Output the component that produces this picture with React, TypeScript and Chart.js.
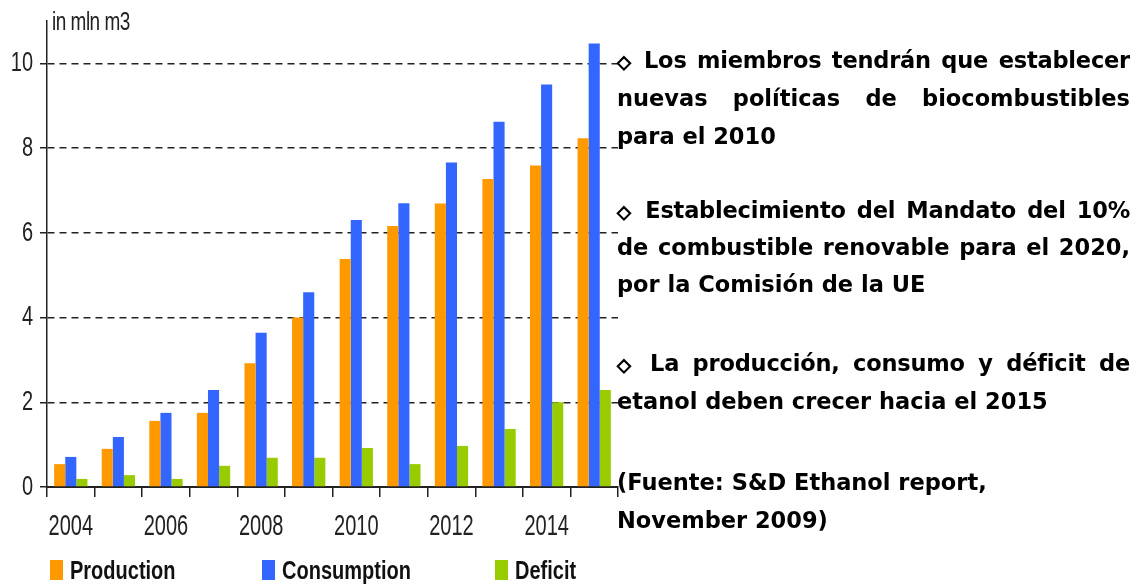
import React, { useEffect, useRef } from "react";
import { Chart, registerables } from "chart.js";

Chart.register(...registerables);

const years = ["2004", "2005", "2006", "2007", "2008", "2009", "2010", "2011", "2012", "2013", "2014", "2015"];
const production = [0.54, 0.9, 1.56, 1.75, 2.92, 4.0, 5.38, 6.16, 6.69, 7.27, 7.59, 8.23];
const consumption = [0.71, 1.18, 1.75, 2.29, 3.64, 4.6, 6.3, 6.7, 7.66, 8.62, 9.5, 10.47];
const deficit = [0.19, 0.28, 0.19, 0.5, 0.69, 0.69, 0.92, 0.54, 0.97, 1.37, 2.0, 2.29];
const yTicks = [0, 2, 4, 6, 8, 10];
const seriesNames = ["Production", "Consumption", "Deficit"];
const seriesColors = ["#FF9900", "#3366FF", "#99CC00"];

const notes: { text: string; justify: boolean; y: number; bullet?: boolean }[] = [
  { text: "Los miembros tendrán que establecer", justify: true, y: 60, bullet: true },
  { text: "nuevas políticas de biocombustibles", justify: true, y: 98 },
  { text: "para el 2010", justify: false, y: 136 },
  { text: "Establecimiento del Mandato del 10%", justify: true, y: 210, bullet: true },
  { text: "de combustible renovable para el 2020,", justify: true, y: 247 },
  { text: "por la Comisión de la UE", justify: false, y: 284 },
  { text: "La producción, consumo y déficit de", justify: true, y: 363, bullet: true },
  { text: "etanol deben crecer hacia el 2015", justify: false, y: 401 },
  { text: "(Fuente: S&D Ethanol report,", justify: false, y: 482 },
  { text: "November 2009)", justify: false, y: 520 },
];

const legendX = [50, 262, 495];
const FONT = '"Liberation Sans", Arial, sans-serif';

const stretchedLabels = {
  id: "stretchedLabels",
  afterDraw(chart: any) {
    const ctx = chart.ctx;
    const xs = chart.scales.x;
    const ys = chart.scales.y;
    ctx.save();
    ctx.fillStyle = "#222";
    ctx.font = `20px ${FONT}`;
    ctx.textBaseline = "middle";
    ctx.textAlign = "right";
    yTicks.forEach((v) => {
      const py = ys.getPixelForValue(v);
      ctx.save();
      ctx.translate(ys.right - 14, py);
      ctx.scale(1, 1.4);
      ctx.fillText(String(v), 0, 0);
      ctx.restore();
    });
    ctx.textAlign = "center";
    years.forEach((lab, i) => {
      if (i % 2 !== 0) return;
      const px = xs.getPixelForTick(i);
      ctx.save();
      ctx.translate(px, xs.top + 40);
      ctx.scale(1, 1.5);
      ctx.fillText(lab, 0, 0);
      ctx.restore();
    });
    ctx.restore();
  },
};

export default function App() {
  const ref = useRef<HTMLCanvasElement>(null);

  useEffect(() => {
    document.body.style.margin = "0";
    const canvas = ref.current;
    if (!canvas) return;
    const values = [production, consumption, deficit];
    const chart = new Chart(canvas, {
      type: "bar",
      data: {
        labels: years,
        datasets: seriesNames.map((name, i) => ({
          label: name,
          data: values[i],
          backgroundColor: seriesColors[i],
          borderWidth: 0,
          categoryPercentage: 0.7,
          barPercentage: 1.0,
        })),
      },
      plugins: [stretchedLabels],
      options: {
        animation: false,
        responsive: false,
        maintainAspectRatio: false,
        layout: { padding: { left: 0, right: 12, top: 21, bottom: 0 } },
        plugins: { legend: { display: false }, tooltip: { enabled: false } },
        scales: {
          x: {
            grid: {
              offset: true,
              drawOnChartArea: false,
              drawTicks: true,
              tickLength: 10,
              color: "#222",
              lineWidth: 1.5,
            },
            border: { display: true, color: "#222", width: 2 },
            ticks: {
              autoSkip: false,
              maxRotation: 0,
              padding: 18,
              color: "rgba(0,0,0,0)",
              font: { family: FONT, size: 20 },
              callback: (_v: any, i: number) => (i % 2 === 0 ? years[i] : ""),
            },
            afterFit: (s: any) => {
              s.height = 97;
            },
          },
          y: {
            min: 0,
            max: 11,
            afterBuildTicks: (s: any) => {
              s.ticks = yTicks.map((v) => ({ value: v }));
            },
            grid: {
              drawTicks: true,
              tickLength: 7,
              color: (c: any) => (c.tick && c.tick.value === 0 ? "rgba(0,0,0,0)" : "#222"),
              lineWidth: 1.5,
              tickColor: "#222",
              tickBorderDash: [],
            },
            border: { display: true, color: "#222", width: 1.5, dash: [7, 5] },
            ticks: {
              padding: 7,
              color: "rgba(0,0,0,0)",
              font: { family: FONT, size: 20 },
            },
            afterFit: (s: any) => {
              s.width = 47;
            },
          },
        },
      },
    });
    return () => chart.destroy();
  }, []);

  return (
    <div style={{ position: "relative", width: 1145, height: 584, background: "#fff", overflow: "hidden" }}>
      <canvas ref={ref} width={630} height={584} style={{ position: "absolute", left: 0, top: 0 }} />
      <div
        style={{
          position: "absolute",
          left: 52,
          top: 10,
          fontFamily: FONT,
          fontSize: 19,
          color: "#222",
          lineHeight: "24px",
          letterSpacing: -0.5,
          transform: "scaleY(1.4)",
          transformOrigin: "left center",
        }}
      >
        in mln m3
      </div>
      {seriesNames.map((name, i) => (
        <div
          key={name}
          style={{
            position: "absolute",
            left: legendX[i],
            top: 558,
            height: 24,
            display: "flex",
            alignItems: "center",
            fontFamily: FONT,
            fontWeight: "bold",
            fontSize: 20,
            color: "#111",
          }}
        >
          <span style={{ display: "inline-block", width: 13, height: 20, background: seriesColors[i], marginRight: 7 }} />
          <span style={{ display: "inline-block", transform: "scaleY(1.25)", transformOrigin: "left center" }}>{name}</span>
        </div>
      ))}
      {notes.map((n, i) => (
        <div
          key={i}
          style={{
            position: "absolute",
            left: 617,
            top: n.y - 19,
            width: 513,
            height: 38,
            lineHeight: "38px",
            whiteSpace: "nowrap",
            fontFamily: '"DejaVu Sans", sans-serif',
            fontWeight: "bold",
            fontSize: 22.5,
            letterSpacing: n.bullet ? -0.2 : 0,
            color: "#000",
            textAlign: n.justify ? "justify" : "left",
            textAlignLast: n.justify ? "justify" : "left",
          } as any}
        >
          {n.bullet ? (
            <span style={{ fontSize: 18, WebkitTextStroke: "1.2px #000" } as any}>{"\u25C7"}</span>
          ) : null}
          {n.bullet ? " " : ""}
          {n.text}
        </div>
      ))}
    </div>
  );
}
